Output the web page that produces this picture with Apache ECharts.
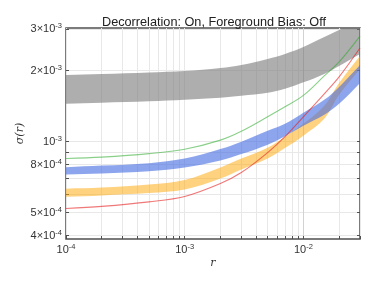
<!DOCTYPE html>
<html>
<head>
<meta charset="utf-8">
<script src="https://cdn.jsdelivr.net/npm/echarts@6/dist/echarts.min.js"></script>
<style>html,body{margin:0;padding:0;background:#fff;}#c{width:374px;height:281px;}</style>
</head>
<body>
<div id="c"></div>
<script>
// ---- data ----
var rValues = [1e-4, 2e-4, 5e-4, 1e-3, 2e-3, 3e-3, 5e-3, 7e-3, 1e-2, 1.5e-2, 2e-2, 3e-2];
var grayUpper = [1.918e-3, 1.936e-3, 1.965e-3, 1.993e-3, 2.052e-3, 2.113e-3, 2.240e-3, 2.351e-3, 2.517e-3, 2.773e-3, 2.969e-3, 3.27e-3];
var grayLower = [1.446e-3, 1.461e-3, 1.482e-3, 1.504e-3, 1.533e-3, 1.563e-3, 1.610e-3, 1.674e-3, 1.783e-3, 1.936e-3, 2.092e-3, 2.351e-3];
var yellowUpper = [6.32e-4, 6.39e-4, 6.58e-4, 6.88e-4, 7.77e-4, 8.48e-4, 9.43e-4, 1.050e-3, 1.191e-3, 1.419e-3, 1.774e-3, 2.306e-3];
var yellowLower = [5.84e-4, 5.92e-4, 6.06e-4, 6.27e-4, 6.98e-4, 7.62e-4, 8.48e-4, 9.39e-4, 1.060e-3, 1.250e-3, 1.579e-3, 2.032e-3];
var blueUpper = [7.79e-4, 7.92e-4, 8.11e-4, 8.48e-4, 9.30e-4, 1.000e-3, 1.113e-3, 1.191e-3, 1.326e-3, 1.504e-3, 1.706e-3, 2.113e-3];
var blueLower = [7.26e-4, 7.33e-4, 7.49e-4, 7.77e-4, 8.32e-4, 8.86e-4, 9.71e-4, 1.055e-3, 1.168e-3, 1.300e-3, 1.446e-3, 1.774e-3];
var greenLine = [8.48e-4, 8.60e-4, 8.90e-4, 9.29e-4, 1.015e-3, 1.107e-3, 1.275e-3, 1.405e-3, 1.571e-3, 1.899e-3, 2.176e-3, 2.80e-3];
var redLine = [5.21e-4, 5.32e-4, 5.56e-4, 5.86e-4, 6.65e-4, 7.40e-4, 8.99e-4, 1.050e-3, 1.275e-3, 1.594e-3, 1.881e-3, 2.493e-3];

var xTickValues = [1e-4,2e-4,3e-4,4e-4,5e-4,6e-4,7e-4,8e-4,9e-4,1e-3,2e-3,3e-3,4e-3,5e-3,6e-3,7e-3,8e-3,9e-3,1e-2,2e-2,3e-2];
var xLabelValues = [1e-4, 1e-3, 1e-2];
var xLabelMantissa = ['', '', ''];
var xLabelExponent = ['-4', '-3', '-2'];
var yTickValues = [4e-4,5e-4,6e-4,7e-4,8e-4,9e-4,1e-3,2e-3,3e-3];
var yLabelValues = [4e-4, 5e-4, 8e-4, 1e-3, 2e-3, 3e-3];
var yLabelMantissa = ['4×', '5×', '8×', '', '2×', '3×'];
var yLabelExponent = ['-4', '-4', '-4', '-3', '-3', '-3'];

var titleText = 'Decorrelation: On, Foreground Bias: Off';
var xName = 'r';
var yName = 'σ(r)';

// ---- helpers ----
function pairs(ys) { return rValues.map(function (r, i) { return [r, ys[i]]; }); }
function findIdx(list, v) {
  for (var i = 0; i < list.length; i++) {
    if (Math.abs(Math.log10(v) - Math.log10(list[i])) < 1e-6) return i;
  }
  return -1;
}
function makeFormatter(vals, mant, expo) {
  return function (v) {
    var i = findIdx(vals, v);
    if (i < 0) return '';
    return '{m|' + mant[i] + '10}{e|' + expo[i] + '}';
  };
}
var FONT = 'Liberation Sans';
var rich = {
  m: { fontSize: 11, fontFamily: FONT, color: '#333', lineHeight: 14 },
  e: { fontSize: 7.5, fontFamily: FONT, color: '#333', lineHeight: 9, verticalAlign: 'top' }
};

var gridColor = '#e8e8e8';
var frameColor = '#505050';
var SMOOTH = 0.35;

// band drawn as a polygon through the axes' own coordinate mapping
function band(name, up, lo, color) {
  var data = rValues.map(function (r, i) { return [r, lo[i], up[i]]; });
  return {
    name: name, type: 'custom', data: data, clip: true, silent: true,
    encode: { x: 0, y: [1, 2] },
    renderItem: function (params, api) {
      if (params.dataIndex !== 0) return null;
      var top = [], bot = [];
      for (var i = 0; i < data.length; i++) {
        top.push(api.coord([data[i][0], data[i][2]]));
        bot.push(api.coord([data[i][0], data[i][1]]));
      }
      bot.reverse();
      // repeat the end vertices so the closing edges stay sharp
      var pts = [top[0]].concat(top, [top[top.length - 1], bot[0]], bot, [bot[bot.length - 1]]);
      var cs = params.coordSys;
      return {
        type: 'group',
        clipPath: { type: 'rect', shape: { x: cs.x, y: cs.y, width: cs.width, height: cs.height } },
        children: [
          { type: 'polygon', shape: { points: pts, smooth: SMOOTH },
            style: { fill: color, stroke: null } }
        ]
      };
    }
  };
}

var series = [
  band('gray', grayUpper, grayLower, 'rgba(120,120,120,0.6)'),
  band('yellow', yellowUpper, yellowLower, 'rgba(255,165,0,0.5)'),
  band('blue', blueUpper, blueLower, 'rgba(65,105,225,0.6)'),
  { name: 'green', type: 'line', data: pairs(greenLine), smooth: SMOOTH, symbol: 'none',
    lineStyle: { color: 'rgba(40,170,40,0.55)', width: 1.1 } },
  { name: 'red', type: 'line', data: pairs(redLine), smooth: SMOOTH, symbol: 'none',
    lineStyle: { color: 'rgba(230,30,30,0.6)', width: 1.1 },
    markLine: { silent: true, symbol: 'none', label: { show: false },
      lineStyle: { color: '#d2d2d2', width: 1, type: 'solid' },
      data: [{ yAxis: 1e-3 }, { xAxis: 1e-3 }, { xAxis: 1e-2 }], z: 0 } }
];

var chart = echarts.init(document.getElementById('c'), null, { renderer: 'canvas' });
chart.setOption({
  animation: false,
  backgroundColor: '#fff',
  title: { text: titleText, left: 209, top: 11, textAlign: 'center',
    textStyle: { fontSize: 12.7, fontWeight: 'normal', fontFamily: FONT, color: '#222' } },
  grid: { left: 66, right: 14, top: 28, bottom: 42, show: true, borderColor: frameColor, borderWidth: 1.5, backgroundColor: 'transparent' },
  xAxis: {
    type: 'log', logBase: 10, min: 1e-4, max: 3e-2,
    name: xName, nameLocation: 'middle', nameGap: 19, nameMoveOverlap: false,
    nameTextStyle: { fontSize: 11, fontStyle: 'italic', fontFamily: 'DejaVu Serif', color: '#333' },
    axisLine: { show: false },
    axisTick: { show: true, inside: true, length: 3, customValues: xTickValues, lineStyle: { color: frameColor } },
    axisLabel: { customValues: xLabelValues, formatter: makeFormatter(xLabelValues, xLabelMantissa, xLabelExponent), rich: rich, margin: 4 },
    splitLine: { show: true, lineStyle: { color: gridColor, width: 1 } },
    minorTick: { show: false }, minorSplitLine: { show: false }
  },
  yAxis: [{
    type: 'log', logBase: 10, min: 3.87e-4, max: 3.03e-3,
    name: yName, nameLocation: 'middle', nameGap: 40, nameRotate: 90, nameMoveOverlap: false,
    nameTextStyle: { fontSize: 11, fontStyle: 'italic', fontFamily: 'DejaVu Serif', color: '#333' },
    axisLine: { show: false },
    axisTick: { show: true, inside: true, length: 3, customValues: yTickValues, lineStyle: { color: frameColor } },
    axisLabel: { customValues: yLabelValues, formatter: makeFormatter(yLabelValues, yLabelMantissa, yLabelExponent), rich: rich, margin: 4 },
    splitLine: { show: true, lineStyle: { color: gridColor, width: 1 } },
    minorTick: { show: false }, minorSplitLine: { show: false }
  }, {
    type: 'log', logBase: 10, min: 3.87e-4, max: 3.03e-3, position: 'right',
    axisLine: { show: false },
    axisTick: { show: true, inside: true, length: 3, customValues: yTickValues, lineStyle: { color: frameColor } },
    axisLabel: { show: false }, splitLine: { show: false }
  }],
  series: series
});
</script>
</body>
</html>
